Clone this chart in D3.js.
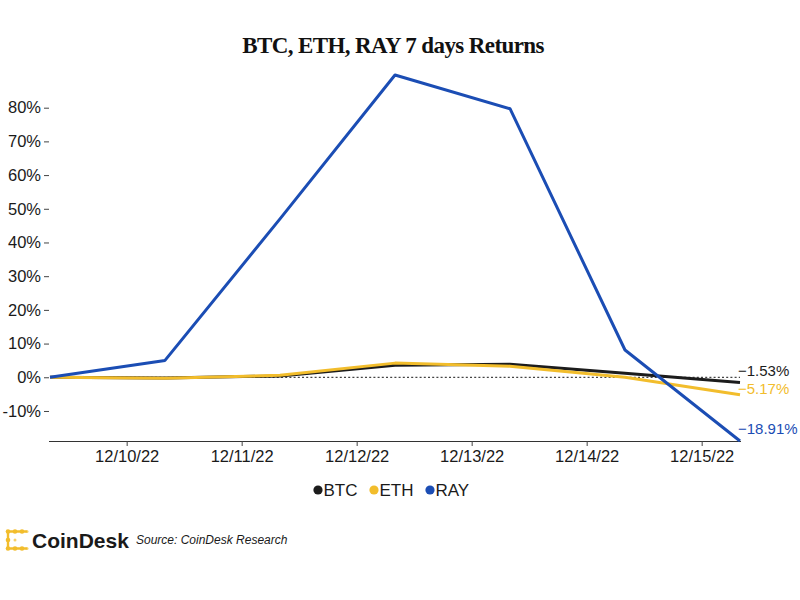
<!DOCTYPE html>
<html>
<head>
<meta charset="utf-8">
<script src="https://cdn.jsdelivr.net/npm/d3@7"></script>
<style>
  html, body { margin: 0; padding: 0; background: #ffffff; }
  svg { display: block; }
</style>
</head>
<body>
<svg id="chart" width="800" height="600"></svg>
<script>
// ---- data ----
const dates = ["2022-12-09", "2022-12-10", "2022-12-11", "2022-12-12", "2022-12-13", "2022-12-14", "2022-12-15"];
const seriesNames = ["BTC", "ETH", "RAY"];
const btcValues = [0, -0.2, 0.4, 3.6, 3.9, 1.2, -1.53];
const ethValues = [0, -0.3, 0.6, 4.2, 3.3, 0.0, -5.17];
const rayValues = [0, 5.0, 47.0, 89.7, 79.7, 8.1, -18.91];
const yTicks = [-10, 0, 10, 20, 30, 40, 50, 60, 70, 80];
const endLabels = ["−1.53%", "−5.17%", "−18.91%"];
const titleText = "BTC, ETH, RAY 7 days Returns";
const sourceText = "Source: CoinDesk Research";

const colors = { BTC: "#1c1c1c", ETH: "#f2bd2c", RAY: "#1b4db4" };

// ---- setup ----
const svg = d3.select("#chart");
const parse = s => { const p = s.split("-").map(Number); return new Date(p[0], p[1] - 1, p[2], 8); };
const xDates = dates.map(parse);

const allValues = [...btcValues, ...ethValues, ...rayValues];
const x = d3.scaleTime().domain(d3.extent(xDates)).range([50, 740]);
const y = d3.scaleLinear().domain([d3.min(allValues), d3.max(allValues)]).range([441, 75]);

const font = "'Liberation Sans', Arial, Helvetica, sans-serif";

// title
svg.append("text")
  .attr("x", 393).attr("y", 53)
  .attr("text-anchor", "middle")
  .attr("font-family", "'Liberation Serif', 'Times New Roman', serif")
  .attr("font-weight", "bold")
  .attr("font-size", 23)
  .attr("letter-spacing", -0.6)
  .attr("fill", "#111")
  .text(titleText);

// y axis
const yAxis = svg.append("g")
  .attr("transform", "translate(49,0)")
  .call(d3.axisLeft(y).tickValues(yTicks).tickSize(5).tickPadding(3)
    .tickFormat(d => (d < 0 ? "-" + Math.abs(d) : d) + "%"));
yAxis.select(".domain").remove();
yAxis.selectAll(".tick line").attr("stroke", "#444");
yAxis.selectAll(".tick text")
  .attr("font-family", font).attr("font-size", 16.5).attr("fill", "#1a1a1a");

// x axis
const xAxis = svg.append("g")
  .attr("transform", "translate(0,441)")
  .call(d3.axisBottom(x).ticks(d3.timeDay.every(1)).tickSize(5).tickPadding(4)
    .tickFormat(d3.timeFormat("%m/%d/%y")));
xAxis.select(".domain").attr("d", "M49,0.5H741").attr("stroke", "#333");
xAxis.selectAll(".tick line").attr("stroke", "#444");
xAxis.selectAll(".tick text")
  .attr("font-family", font).attr("font-size", 16.5).attr("fill", "#1a1a1a");

// zero reference line
svg.append("line")
  .attr("x1", x.range()[0]).attr("x2", x.range()[1])
  .attr("y1", y(0)).attr("y2", y(0))
  .attr("stroke", "#444").attr("stroke-width", 1.2)
  .attr("stroke-dasharray", "2,2.2");

// lines
const series = [
  { name: "BTC", values: btcValues },
  { name: "ETH", values: ethValues },
  { name: "RAY", values: rayValues }
];
const line = d3.line().x((d, i) => x(xDates[i])).y(d => y(d));
series.forEach(s => {
  svg.append("path")
    .datum(s.values)
    .attr("fill", "none")
    .attr("stroke", colors[s.name])
    .attr("stroke-width", 3)
    .attr("stroke-linejoin", "round")
    .attr("d", line);
});

// end labels with simple collision avoidance
const labelData = series.map((s, i) => ({
  name: s.name, text: endLabels[i],
  y: y(s.values[s.values.length - 1]) - 6.7
})).sort((a, b) => a.y - b.y);
for (let i = 1; i < labelData.length; i++) {
  if (labelData[i].y - labelData[i - 1].y < 18) labelData[i].y = labelData[i - 1].y + 18;
}
labelData.forEach(l => {
  svg.append("text")
    .attr("x", x(xDates[xDates.length - 1]) - 2)
    .attr("y", l.y)
    .attr("font-family", font).attr("font-size", 15)
    .attr("fill", colors[l.name])
    .text(l.text);
});

// legend
const legendX = [318, 374, 430];
seriesNames.forEach((n, i) => {
  svg.append("circle").attr("cx", legendX[i]).attr("cy", 490).attr("r", 4.6).attr("fill", colors[n]);
  svg.append("text").attr("x", legendX[i] + 5.5).attr("y", 495.5)
    .attr("font-family", font).attr("font-size", 17).attr("fill", "#1a1a1a")
    .text(n);
});

// CoinDesk logo
const logo = svg.append("g").attr("fill", "#f2bd2c").attr("stroke", "#f2bd2c");
logo.append("path")
  .attr("d", "M8,531.5 H26 M8,531.5 V548.5 M8,548.5 H26")
  .attr("fill", "none").attr("stroke-width", 2.4).attr("stroke-linecap", "round");
[[8,531.5],[15,531.5],[22,531.5],[8,540],[8,548.5],[15,548.5],[22,548.5]].forEach(p => {
  logo.append("circle").attr("cx", p[0]).attr("cy", p[1]).attr("r", 2.3).attr("stroke", "none");
});
[[27,531.5],[27,548.5],[15,540]].forEach(p => {
  logo.append("circle").attr("cx", p[0]).attr("cy", p[1]).attr("r", 1.5).attr("stroke", "none").attr("opacity", 0.7);
});
svg.append("text").attr("x", 32).attr("y", 547.7)
  .attr("font-family", font).attr("font-weight", "bold").attr("font-size", 21)
  .attr("fill", "#1a1a1a").text("CoinDesk");
svg.append("text").attr("x", 136).attr("y", 544)
  .attr("font-family", font).attr("font-style", "italic").attr("font-size", 12)
  .attr("fill", "#1a1a1a").text(sourceText);
</script>
</body>
</html>
